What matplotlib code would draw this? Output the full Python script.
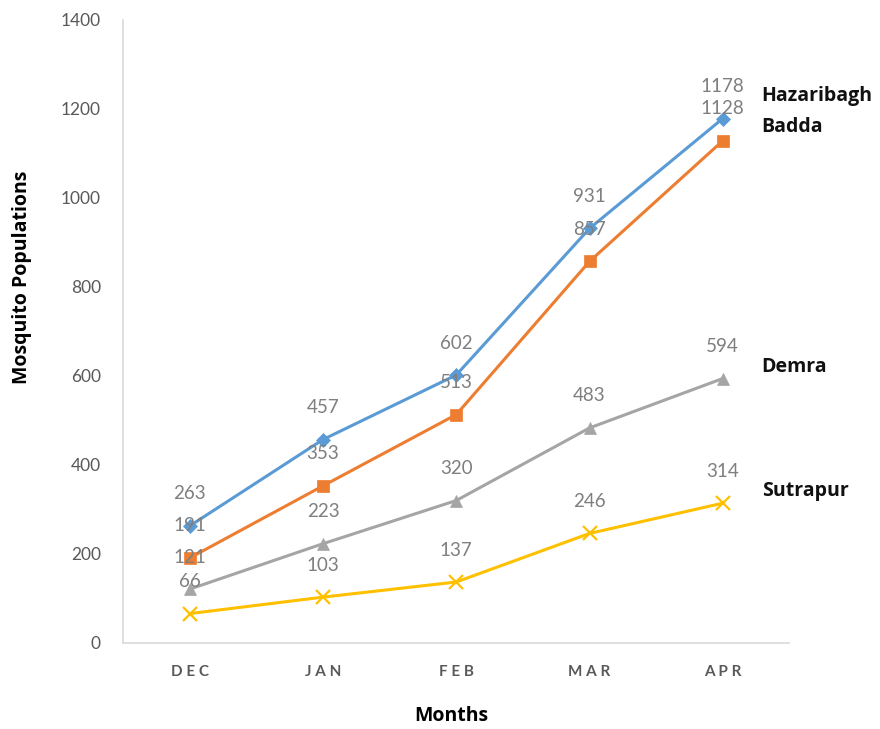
import matplotlib.pyplot as plt

plt.rcParams['font.family'] = ['Lato', 'DejaVu Sans']

months = ["DEC", "JAN", "FEB", "MAR", "APR"]
hazaribagh = [263, 457, 602, 931, 1178]
badda = [191, 353, 513, 857, 1128]
demra = [121, 223, 320, 483, 594]
sutrapur = [66, 103, 137, 246, 314]

series = [
    ("Hazaribagh", hazaribagh, "#5B9BD5", "D", 7, 16),
    ("Badda", badda, "#ED7D31", "s", 8, 10),
    ("Demra", demra, "#A5A5A5", "^", 9, 8),
    ("Sutrapur", sutrapur, "#FFC000", "x", 10, 9),
]

fig = plt.figure(figsize=(8.8, 7.29), dpi=100)
ax = fig.add_axes([0.14, 0.118, 0.757, 0.855])
x = list(range(len(months)))

for name, vals, col, mk, ms, name_dy in series:
    ax.plot(x, vals, color=col, lw=2.2, marker=mk, markersize=ms,
            markeredgewidth=1.6 if mk == "x" else 0.5, markeredgecolor=col, zorder=3)
    for xi, v in zip(x, vals):
        ax.annotate(str(v), (xi, v), xytext=(0, 23), textcoords="offset points",
                    ha="center", va="center", fontsize=13.5, color="#7F7F7F")
    ax.annotate(name, (x[-1], vals[-1]), xytext=(28, name_dy), textcoords="offset points",
                ha="left", va="center", fontsize=14, fontweight="bold", color="#111111",
                family="Open Sans")

ax.set_xlim(-0.5, 4.5)
ax.set_ylim(0, 1400)
ax.set_yticks(range(0, 1401, 200))
ax.set_xticks(x)
# spaced-out month abbreviations
ax.set_xticklabels([" ".join(m) for m in months])
ax.tick_params(axis="both", length=0, colors="#595959")
ax.tick_params(axis="y", pad=16, labelsize=12.5)
ax.tick_params(axis="x", pad=16, labelsize=11)
for lbl in ax.get_xticklabels():
    lbl.set_fontweight("bold")

for side in ["top", "right"]:
    ax.spines[side].set_visible(False)
for side in ["left", "bottom"]:
    ax.spines[side].set_color("#D9D9D9")
    ax.spines[side].set_linewidth(1.2)

ax.set_ylabel("Mosquito Populations", fontsize=14, fontweight="bold",
              family="Open Sans", va="center")
ax.set_xlabel("Months", fontsize=14, fontweight="bold", family="Open Sans", va="center")
ax.yaxis.set_label_coords(-0.152, 0.586)
ax.xaxis.set_label_coords(0.4925, -0.117)

fig.savefig("out.png", dpi=100)
